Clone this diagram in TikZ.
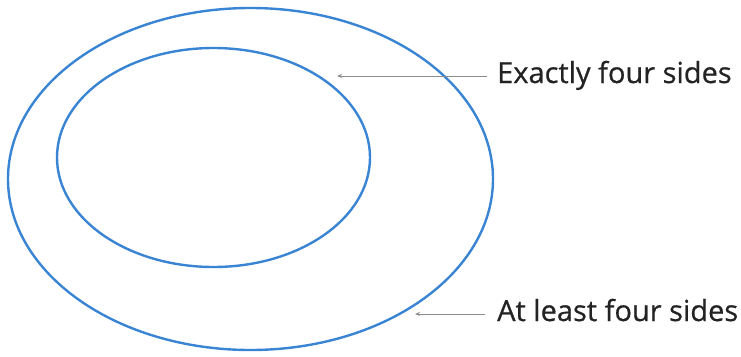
\documentclass[tikz,border=0pt]{standalone}
\usepackage{fontspec}
\setmainfont{Open Sans}[FakeBold=0.6]
\usetikzlibrary{shapes.geometric,arrows.meta}
\definecolor{ringblue}{RGB}{58,132,212}
\definecolor{labelgray}{RGB}{35,35,35}
\definecolor{arrowgray}{RGB}{140,140,140}
\tikzset{
  ring/.style={ellipse, draw=ringblue, line width=2.4pt, inner sep=0pt},
  lbl/.style={anchor=base west, inner sep=0pt, text=labelgray, font=\fontsize{29}{32}\selectfont},
  pointer/.style={draw=arrowgray, line width=1pt, -{Stealth[length=5pt,width=4pt]}}
}
\begin{document}
\begin{tikzpicture}[x=1pt,y=-1pt]
\useasboundingbox (0,0) rectangle (741,356);
\node[ring, minimum width=485pt, minimum height=342pt] (outer) at (250.5,179) {};
\node[ring, minimum width=313pt, minimum height=219pt] (inner) at (213.5,157.5) {};
\node[lbl] (t1) at (497,83) {Exactly four sides};
\node[lbl] (t2) at (497,321) {At least four sides};
\coordinate (a1) at (337,76);
\coordinate (s1) at (487,76);
\coordinate (a2) at (415,314);
\coordinate (s2) at (485,314);
\draw[pointer] (s1) -- (a1);
\draw[pointer] (s2) -- (a2);
\end{tikzpicture}
\end{document}
